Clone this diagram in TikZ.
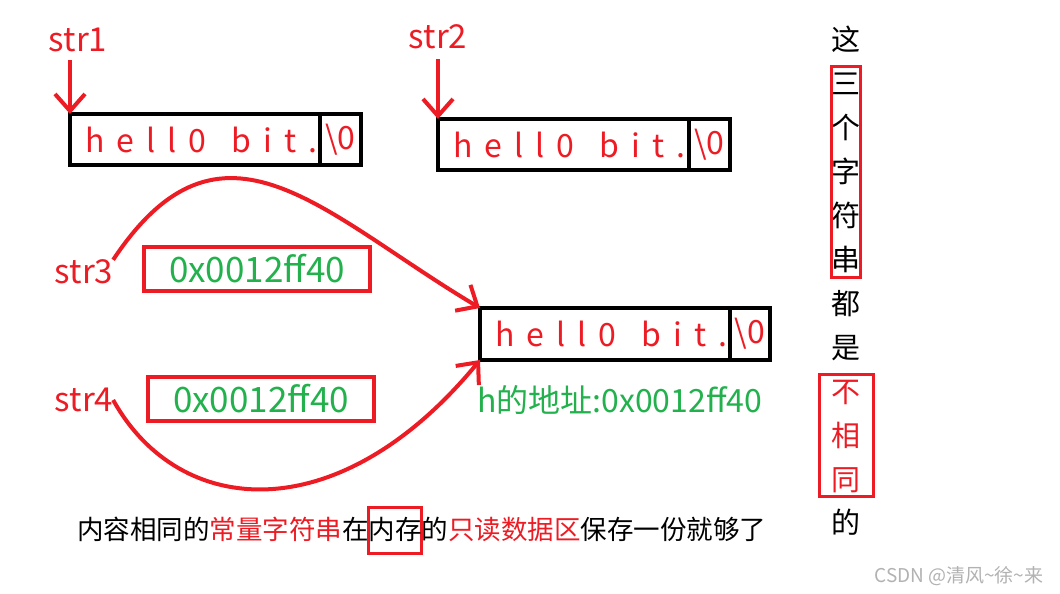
\documentclass[tikz,border=0pt]{standalone}
\usepackage{fontspec}
\setmainfont{Noto Sans CJK SC}
\newfontfamily\spaced[LetterSpace=38]{Noto Sans CJK SC}
\usetikzlibrary{positioning, arrows.meta, fit}
\definecolor{pred}{RGB}{237,28,36}
\definecolor{pgreen}{RGB}{34,177,76}
\newcommand{\hellotext}{\hspace*{15pt}hell0\hspace{14pt} bit.}

\begin{document}
\begin{tikzpicture}[x=1pt,y=-1pt,every node/.style={inner sep=0pt,outer sep=0pt},
	lbl/.style={text=pred,font=\fontsize{33}{33}\selectfont},
	cell/.style={draw,line width=4pt,minimum height=51pt,anchor=west,text=pred,font=\fontsize{32}{32}\selectfont},
	mem/.style={cell,text width=#1,align=left,font=\spaced\fontsize{32}{32}\selectfont},
	ptr/.style={draw=pred,line width=4pt,minimum width=226pt,minimum height=44pt,text=pgreen,font=\fontsize{35}{35}\selectfont},
	arr/.style={draw=pred,line width=4pt,-{Straight Barb[length=17pt,width=30pt]}},
	vch/.style={font=\fontsize{29}{29}\selectfont,text height=25.5pt,text depth=3.5pt},
	sent/.style={font=\fontsize{26.5}{26.5}\selectfont,text height=23pt,text depth=3.5pt}]
	\fill[white] (0,0) rectangle (1060,594);
	\useasboundingbox (0,0) rectangle (1060,594);
	% strings
	\node[mem=250pt] (b1) at (70,139.5) {\hellotext};
	\node[cell,minimum width=41pt] (z1) at (b1.east) {\textbackslash0};
	\node[mem=251pt] (b2) at (438,144.5) {\hellotext};
	\node[cell,minimum width=41pt] (z2) at (b2.east) {\textbackslash0};
	\node[mem=250pt,minimum height=52pt] (b3) at (480,334) {\hellotext};
	\node[cell,minimum width=40pt,minimum height=52pt] (z3) at (b3.east) {\textbackslash0};
	\node[anchor=west,text=pgreen,font=\fontsize{32}{32}\selectfont] (a3) at (477,400) {h的地址:0x0012ff40};
	% pointers
	\node[lbl] (s1) at (78,40) {str1};
	\node[lbl] (s2) at (438,37) {str2};
	\node[lbl] (s3) at (84,272) {str3};
	\node[lbl] (s4) at (84,400) {str4};
	\node[ptr] (p3) at (257,269) {0x0012ff40};
	\node[ptr] (p4) at (261,399) {0x0012ff40};
	\draw[arr,shorten <=8pt] (b1.north west |- s1.south) -- (b1.north west);
	\draw[arr,shorten <=10pt] (b2.north west |- s2.south) -- (b2.north west);
	\draw[arr] (s3.north east) .. controls (222,96) and (322,214) .. (b3.north west);
	\draw[arr] (s4.east) .. controls (180,520) and (340,530) .. (b3.south west);
	% side note
	\foreach \c/\col [count=\i] in {这/black,三/black,个/black,字/black,符/black,串/black,都/black,是/black,不/pred,相/pred,同/pred,的/black}
		\node[vch,text=\col] (v\i) at (846,{40+43.9*(\i-1)}) {\c};
	\node[fit=(v2)(v6),draw=pred,line width=3pt,inner xsep=0pt,inner ysep=3pt] (r1) {};
	\node[fit=(v9)(v11),draw=pred,line width=3pt,inner xsep=12.5pt,inner ysep=2.5pt] (r2) {};
	% bottom line
	\node[sent,anchor=west] (t1) at (77,530) {内容相同的};
	\node[sent,text=pred,right=0pt of t1] (t2) {常量字符串};
	\node[sent,right=0pt of t2] (t3) {在};
	\node[sent,right=0pt of t3,draw=pred,line width=3pt,minimum height=46pt] (t4) {内存};
	\node[sent,right=0pt of t4] (t5) {的};
	\node[sent,text=pred,right=0pt of t5] (t6) {只读数据区};
	\node[sent,right=0pt of t6] (t7) {保存一份就够了};
%	\node[sent,below=4pt of t1] (t8) {};
	\node[text=black!30,font=\fontsize{19}{19}\selectfont] (wm) at (959,576) {CSDN @清风\textasciitilde{}徐\textasciitilde{}来};
\end{tikzpicture}
\end{document}
